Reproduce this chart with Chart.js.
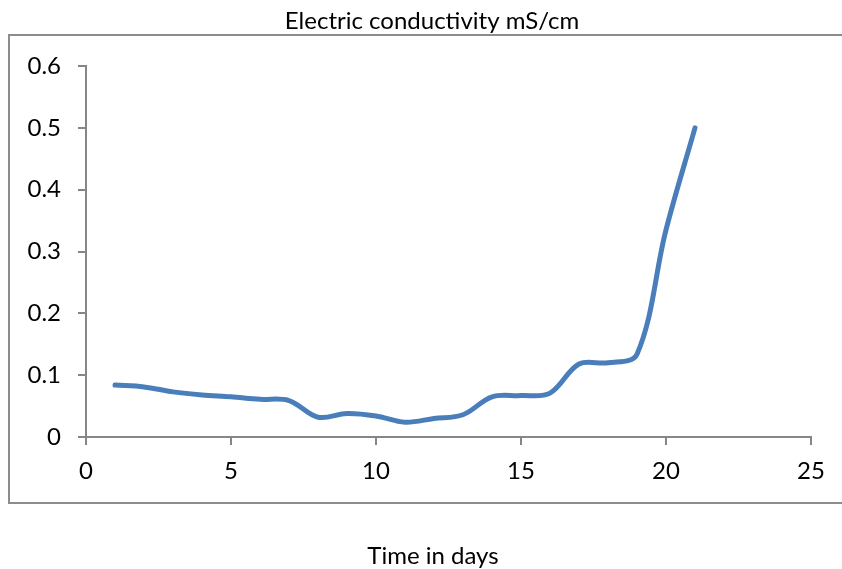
<!DOCTYPE html>
<html>
<head>
<meta charset="utf-8">
<script src="https://cdn.jsdelivr.net/npm/chart.js@4"></script>
<style>
  html, body { margin: 0; padding: 0; background: #fff; }
  #wrap { width: 842px; height: 569px; }
</style>
</head>
<body>
<div id="wrap"><canvas id="chart" width="842" height="569"></canvas></div>
<script>
// data
const days = [1, 2, 3, 4, 5, 6, 7, 8, 9, 10, 11, 12, 13, 14, 15, 16, 17, 18, 19, 20, 21];
const conductivity = [0.084, 0.081, 0.073, 0.068, 0.065, 0.061, 0.059, 0.032, 0.038, 0.034, 0.024,
  0.030, 0.036, 0.065, 0.067, 0.071, 0.118, 0.120, 0.134, 0.335, 0.5];
const yTicks = [0, 0.1, 0.2, 0.3, 0.4, 0.5, 0.6];
const xTicks = [0, 5, 10, 15, 20, 25];

const chartTitle = 'Electric conductivity mS/cm';
const xTitle = 'Time in days';
const FONT = 'Lato, Carlito, "Open Sans", sans-serif';
const axisGrey = '#868686';

// frame + texts, drawn like the spreadsheet chart
const decorations = {
  id: 'decorations',
  beforeDraw(chart) {
    const c = chart.ctx;
    c.save();
    c.strokeStyle = '#8c8c8c';
    c.lineWidth = 2;
    c.strokeRect(9, 35, 850, 468);
    c.restore();
  },
  afterDraw(chart) {
    const c = chart.ctx;
    c.save();
    c.fillStyle = '#000';
    c.font = '24px ' + FONT;
    c.textAlign = 'center';
    c.textBaseline = 'middle';
    c.fillText(chartTitle, 432, 21);
    c.fillText(xTitle, 433, 556);
    c.restore();
  }
};

const ctx = document.getElementById('chart').getContext('2d');
new Chart(ctx, {
  type: 'line',
  data: {
    datasets: [{
      data: days.map((d, i) => ({ x: d, y: conductivity[i] })),
      borderColor: '#4a7ebb',
      borderWidth: 5,
      pointRadius: 0,
      tension: 0.35,
      fill: false,
      borderCapStyle: 'round'
    }]
  },
  options: {
    responsive: false,
    animation: false,
    layout: { padding: { top: 66, right: 31, left: 0, bottom: 0 } },
    plugins: {
      legend: { display: false },
      tooltip: { enabled: false }
    },
    scales: {
      x: {
        type: 'linear',
        min: 0,
        max: 25,
        afterFit: s => { s.height = 569 - 66 - 371; },
        afterBuildTicks: s => { s.ticks = xTicks.map(v => ({ value: v })); },
        grid: { drawOnChartArea: false, drawTicks: true, tickLength: 8, color: axisGrey, lineWidth: 2 },
        border: { color: axisGrey, width: 2 },
        ticks: { color: '#000', font: { family: FONT, size: 24 }, padding: 12, maxRotation: 0 }
      },
      y: {
        min: 0,
        max: 0.6,
        afterFit: s => { s.width = 86; },
        afterBuildTicks: s => { s.ticks = yTicks.map(v => ({ value: v })); },
        grid: { drawOnChartArea: false, drawTicks: true, tickLength: 8, color: axisGrey, lineWidth: 2 },
        border: { color: axisGrey, width: 2 },
        ticks: {
          color: '#000',
          font: { family: FONT, size: 24 },
          padding: 17,
          callback: v => (v === 0 ? '0' : v.toFixed(1))
        }
      }
    }
  },
  plugins: [decorations]
});
</script>
</body>
</html>
